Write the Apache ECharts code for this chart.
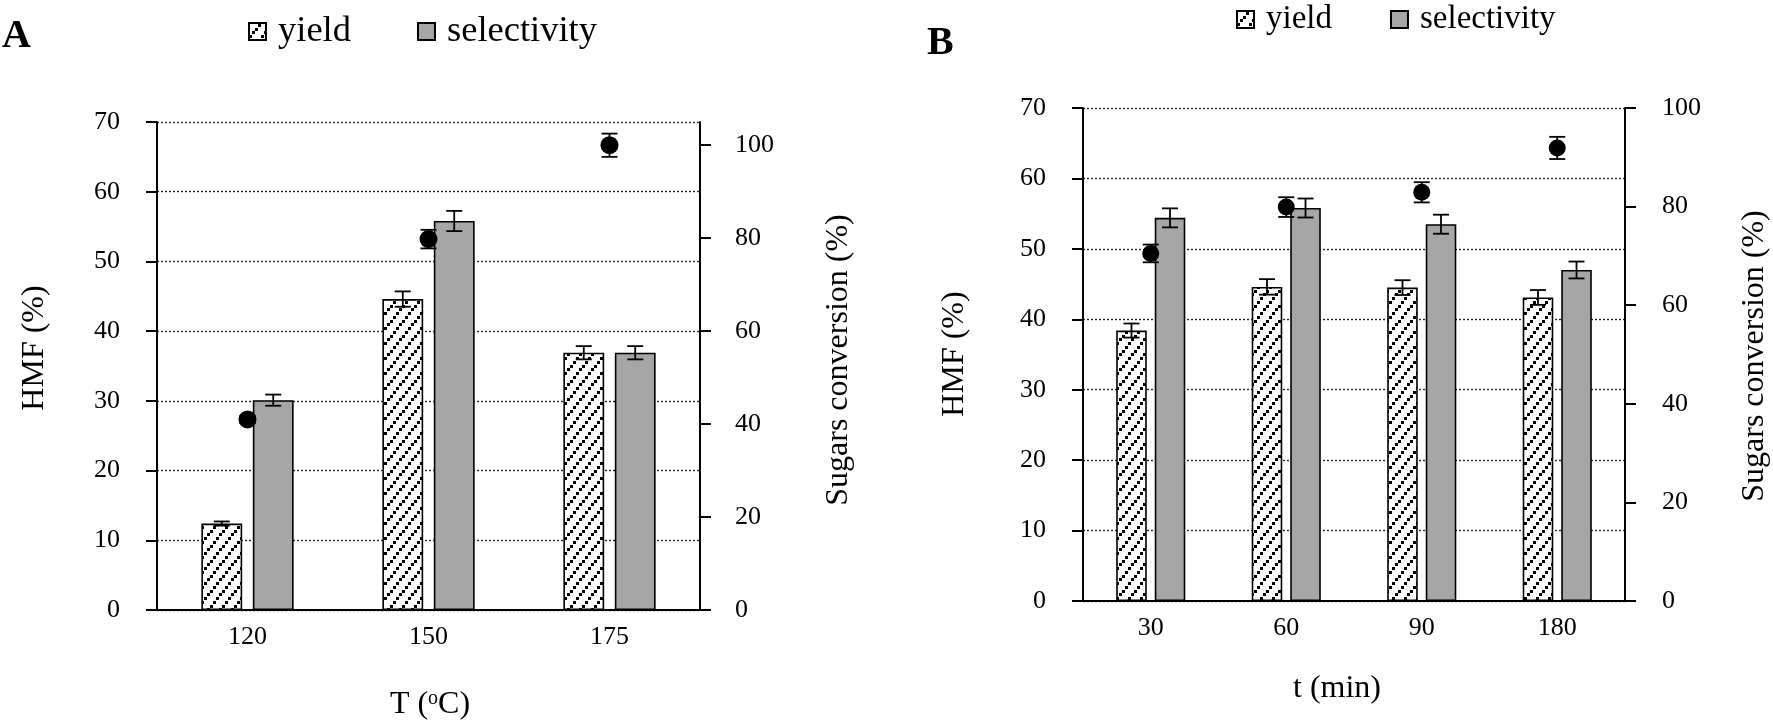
<!DOCTYPE html>
<html><head><meta charset="utf-8">
<script src="https://cdn.jsdelivr.net/npm/echarts@6/dist/echarts.min.js"></script>
<style>html,body{margin:0;padding:0;background:#fff}#c{width:1773px;height:724px}</style>
</head><body><div id="c"></div>
<script>
// ---- Panel A (temperature) ----
const catsA = ['120', '150', '175'];
const yieldA = [12.4, 44.6, 36.9];
const yieldErrA = [0.3, 1.1, 0.95];
const selA = [30.1, 55.8, 36.9];
const selErrA = [0.8, 1.45, 0.95];
const convA = [41.0, 79.8, 100.0];
const convErrA = [0.8, 2.0, 2.5];
const convTicksA = [0, 20, 40, 60, 80, 100];

// ---- Panel B (time) ----
const catsB = ['30', '60', '90', '180'];
const yieldB = [38.4, 44.6, 44.5, 43.1];
const yieldErrB = [1.0, 1.1, 1.05, 1.05];
const selB = [54.4, 55.8, 53.5, 47.0];
const selErrB = [1.35, 1.35, 1.35, 1.2];
const convB = [70.5, 79.9, 82.9, 91.9];
const convErrB = [1.8, 2.0, 2.05, 2.25];

const FONT = 'Liberation Serif';
const CAT_GAP = 0.49, BAR_GAP = 0.26;

function makeHatch() {
  const c = document.createElement('canvas');
  c.width = 12; c.height = 15;
  const g = c.getContext('2d');
  g.fillStyle = '#fff'; g.fillRect(0, 0, 12, 15);
  g.fillStyle = '#000';
  [[0, 12], [3, 8], [6, 5], [9, 1]].forEach(p => g.fillRect(p[0], p[1], 3, 3));
  return c;
}
const hatch = { image: makeHatch(), repeat: 'repeat' };

function errRender(slot) {
  return function (params, api) {
    const c = api.value(0), v = api.value(1), e = api.value(2);
    const band = api.size([1, 0])[0];
    const span = band * (1 - CAT_GAP);
    const bw = span / (2 + BAR_GAP);
    const dx = slot === 0 ? 0 : slot * (span / 2 - bw / 2);
    const top = api.coord([c, v + e]);
    const bot = api.coord([c, v - e]);
    const x = top[0] + dx, h = 8;
    const st = { stroke: '#000', lineWidth: 1.8 };
    return { type: 'group', children: [
      { type: 'line', shape: { x1: x, y1: top[1], x2: x, y2: bot[1] }, style: st },
      { type: 'line', shape: { x1: x - h, y1: top[1], x2: x + h, y2: top[1] }, style: st },
      { type: 'line', shape: { x1: x - h, y1: bot[1], x2: x + h, y2: bot[1] }, style: st }
    ]};
  };
}
function errData(vals, errs) { return vals.map((v, i) => [i, v, errs[i]]); }

const axisLineStyle = { show: true, lineStyle: { color: '#000', width: 2 } };
const tickStyle = { show: true, inside: false, length: 11, lineStyle: { color: '#000', width: 2 } };
const labelStyle = (m) => ({ color: '#000', fontFamily: FONT, fontSize: 26, margin: m });
const gridLine = { show: true, lineStyle: { color: '#222', width: 1.4, type: [2, 2] } };

function xAxis(gi, cats) {
  return { type: 'category', gridIndex: gi, data: cats, axisLine: axisLineStyle,
    axisTick: { show: false }, axisLabel: labelStyle(14), splitLine: { show: false } };
}

function panelSeries(xi, yl, yr, yv, ye, sv, se, cv, ce, sz) {
  return [
    { name: 'yield', type: 'bar', xAxisIndex: xi, yAxisIndex: yl, data: yv,
      barGap: (BAR_GAP * 100) + '%', barCategoryGap: (CAT_GAP * 100) + '%',
      itemStyle: { color: hatch, borderColor: '#000', borderWidth: 1.6 }, z: 2 },
    { name: 'selectivity', type: 'bar', xAxisIndex: xi, yAxisIndex: yl, data: sv,
      barGap: (BAR_GAP * 100) + '%', barCategoryGap: (CAT_GAP * 100) + '%',
      itemStyle: { color: '#a6a6a6', borderColor: '#000', borderWidth: 1.6 }, z: 2 },
    { name: 'yield err', type: 'custom', xAxisIndex: xi, yAxisIndex: yl, renderItem: errRender(-1),
      data: errData(yv, ye), encode: { x: 0, y: 1 }, z: 3 },
    { name: 'selectivity err', type: 'custom', xAxisIndex: xi, yAxisIndex: yl, renderItem: errRender(1),
      data: errData(sv, se), encode: { x: 0, y: 1 }, z: 3 },
    { name: 'conversion err', type: 'custom', xAxisIndex: xi, yAxisIndex: yr, renderItem: errRender(0),
      data: errData(cv, ce), encode: { x: 0, y: 1 }, z: 4 },
    { name: 'Sugars conversion', type: 'scatter', xAxisIndex: xi, yAxisIndex: yr, data: cv,
      symbol: 'circle', symbolSize: sz, itemStyle: { color: '#000', opacity: 1 }, z: 5 }
  ];
}

function vText(txt, x, y) {
  return { type: 'text', x: x, y: y, rotation: Math.PI / 2,
    style: { text: txt, fontFamily: FONT, fontSize: 32, fill: '#000', align: 'center', verticalAlign: 'middle' } };
}

function legend(left, top, fs, gap) {
  return {
    data: ['yield', 'selectivity'], orient: 'horizontal', padding: 0,
    left: left, top: top,
    itemWidth: 17, itemHeight: 17, itemGap: gap, icon: 'rect',
    selectedMode: false,
    textStyle: { fontFamily: FONT, fontSize: fs, color: '#000', padding: [0, 0, 0, 7] }
  };
}

const option = {
  animation: false,
  backgroundColor: '#fff',
  legend: [legend(248, 13, 36.5, 66), legend(1236, 3, 33, 58)],
  grid: [
    { left: 157, top: 122, width: 543, height: 488, containLabel: false },
    { left: 1083, top: 108, width: 542, height: 493, containLabel: false }
  ],
  xAxis: [xAxis(0, catsA), xAxis(1, catsB)],
  yAxis: [
    { type: 'value', gridIndex: 0, position: 'left', min: 0, max: 70, interval: 10,
      axisLine: axisLineStyle, axisTick: tickStyle, axisLabel: labelStyle(37), splitLine: gridLine },
    { type: 'value', gridIndex: 0, position: 'right', min: 0, max: 105,
      axisLine: axisLineStyle,
      axisTick: Object.assign({}, tickStyle, { customValues: convTicksA }),
      axisLabel: Object.assign(labelStyle(35), { customValues: convTicksA }),
      splitLine: { show: false } },
    { type: 'value', gridIndex: 1, position: 'left', min: 0, max: 70, interval: 10,
      axisLine: axisLineStyle, axisTick: tickStyle, axisLabel: labelStyle(37), splitLine: gridLine },
    { type: 'value', gridIndex: 1, position: 'right', min: 0, max: 100, interval: 20,
      axisLine: axisLineStyle, axisTick: tickStyle, axisLabel: labelStyle(37), splitLine: { show: false } }
  ],
  series: [].concat(
    panelSeries(0, 0, 1, yieldA, yieldErrA, selA, selErrA, convA, convErrA, 18),
    panelSeries(1, 2, 3, yieldB, yieldErrB, selB, selErrB, convB, convErrB, 17)
  ),
  graphic: [
    { type: 'text', x: 2, y: 37, style: { text: 'A', fontFamily: FONT, fontWeight: 'bold', fontSize: 40, fill: '#000', align: 'left', verticalAlign: 'middle' } },
    { type: 'text', x: 927, y: 44, style: { text: 'B', fontFamily: FONT, fontWeight: 'bold', fontSize: 40, fill: '#000', align: 'left', verticalAlign: 'middle' } },
    vText('HMF (%)', 35, 348),
    vText('Sugars conversion (%)', 839, 360),
    vText('HMF (%)', 955, 354),
    vText('Sugars conversion (%)', 1755, 356),
    { type: 'text', x: 430, y: 705, style: { text: '{n|T (}{s|o}{n|C)}', align: 'center', verticalAlign: 'middle',
      rich: { n: { fontFamily: FONT, fontSize: 32, fill: '#000' },
              s: { fontFamily: FONT, fontSize: 20, fill: '#000', verticalAlign: 'top', padding: [0, 0, 12, 0] } } } },
    { type: 'text', x: 1337, y: 689, style: { text: 't (min)', fontFamily: FONT, fontSize: 32, fill: '#000', align: 'center', verticalAlign: 'middle' } }
  ]
};

const chart = echarts.init(document.getElementById('c'), null, { renderer: 'canvas' });
chart.setOption(option);
</script>
</body></html>
